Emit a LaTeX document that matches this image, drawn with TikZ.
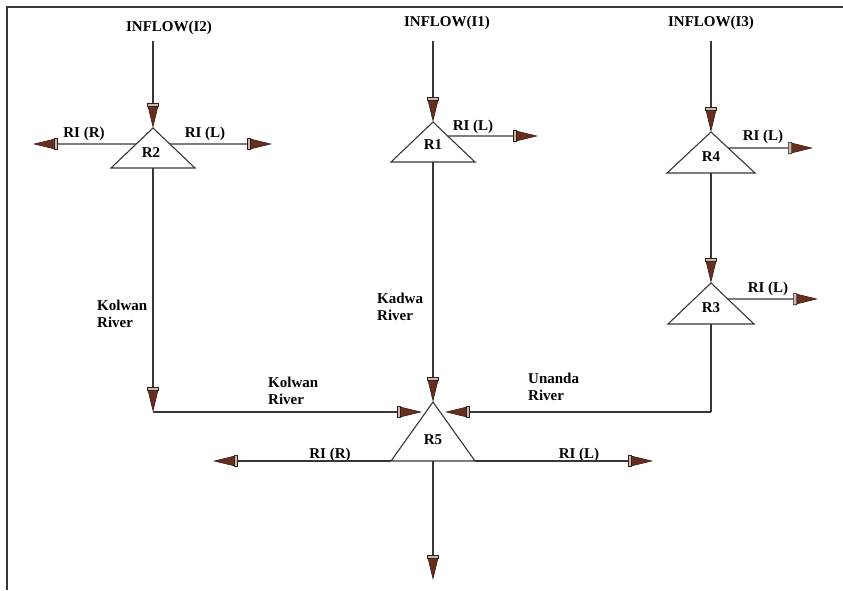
\documentclass[tikz,border=0pt]{standalone}
\usepackage{fontspec}
\setmainfont{Liberation Serif}
\usetikzlibrary{arrows.meta,calc}
\definecolor{tipbrown}{RGB}{105,45,30}
\definecolor{tipdark}{RGB}{55,30,20}
\definecolor{capgray}{RGB}{200,185,178}
\definecolor{wire}{RGB}{55,55,55}
\begin{document}
\begin{tikzpicture}[x=1pt,y=-1pt,
  lab/.style={font=\bfseries\fontsize{15}{17.5}\selectfont, inner sep=0pt, text=black},
  river/.style={lab, align=left, anchor=west},
  wireline/.style={draw=wire, line width=1.3pt},
  flow/.style={wireline, -{Rectangle[length=4pt,width=12pt,fill=capgray,color=tipdark,line width=0.6pt] Triangle[length=21pt,width=10pt,fill=tipbrown,color=tipdark,line width=0.6pt]}},
  res/.style={draw=wire, line width=1.1pt, fill=white}]
\useasboundingbox (0,0) rectangle (843,590);
% frame edges
\draw[line width=2pt, draw=wire] (843,7) -- (7,7) -- (7,590);

% reservoir triangles: apex, base left, base right
\coordinate (R2a) at (153,128); \coordinate (R2bl) at (111,168); \coordinate (R2br) at (195,168);
\coordinate (R1a) at (433,122); \coordinate (R1bl) at (391,162); \coordinate (R1br) at (475,162);
\coordinate (R4a) at (711,132); \coordinate (R4bl) at (667,173); \coordinate (R4br) at (755,173);
\coordinate (R3a) at (711,283); \coordinate (R3bl) at (668,324); \coordinate (R3br) at (754,324);
\coordinate (R5a) at (433,402); \coordinate (R5bl) at (391,461); \coordinate (R5br) at (475,461);
\foreach \r in {R1,R2,R3,R4,R5}
  \draw[res] (\r a) -- (\r bl) -- (\r br) -- cycle;

% side outlets and base midpoints
\coordinate (R2l) at ($(R2a)!0.4!(R2bl)$);
\coordinate (R2r) at ($(R2a)!0.4!(R2br)$);
\coordinate (R1r) at ($(R1a)!0.35!(R1br)$);
\coordinate (R4r) at ($(R4a)!0.39!(R4br)$);
\coordinate (R3r) at ($(R3a)!0.39!(R3br)$);
\coordinate (R2b) at (153,168);
\coordinate (R1b) at (433,162);
\coordinate (R4b) at (711,173);
\coordinate (R3b) at (711,324);
\coordinate (R5b) at (433,461);

% free ends
\coordinate (I2s) at (153,41);
\coordinate (I1s) at (433,41);
\coordinate (I3s) at (711,41);
\coordinate (R2lo) at (33,144);
\coordinate (R2ro) at (272,144);
\coordinate (R1ro) at (538,136);
\coordinate (R4ro) at (813,148);
\coordinate (R3ro) at (818,299);
\coordinate (KolC) at (153,412);
\coordinate (UnaC) at (711,412);
\coordinate (R5li) at (422,412);
\coordinate (R5ri) at (445,412);
\coordinate (R5lo) at (213,461);
\coordinate (R5ro) at (653,461);
\coordinate (R5do) at (433,580);

% labels
\node[lab] (in2) at (169,28) {INFLOW(I2)};
\node[lab] (in1) at (447,23) {INFLOW(I1)};
\node[lab] (in3) at (711,23) {INFLOW(I3)};
\node[lab] (R2) at (151,153) {R2};
\node[lab] (R1) at (433,145) {R1};
\node[lab] (R4) at (711,157) {R4};
\node[lab] (R3) at (711,308) {R3};
\node[lab] (R5) at (433,440) {R5};
\node[lab] (R2RIR) at (84,134) {RI (R)};
\node[lab] (R2RIL) at (205,134) {RI (L)};
\node[lab] (R1RIL) at (473,127) {RI (L)};
\node[lab] (R4RIL) at (763,137) {RI (L)};
\node[lab] (R3RIL) at (768,289) {RI (L)};
\node[lab] (R5RIR) at (330,455) {RI (R)};
\node[lab] (R5RIL) at (579,455) {RI (L)};
\node[river] (kol1) at (97,314) {Kolwan\\River};
\node[river] (kad) at (377,307) {Kadwa\\River};
\node[river] (kol2) at (268,391) {Kolwan\\River};
\node[river] (una) at (528,387) {Unanda\\River};

% inflows
\draw[flow] (I2s) -- (R2a);
\draw[flow] (I1s) -- (R1a);
\draw[flow] (I3s) -- (R4a);
% releases
\draw[flow] (R2l) -- (R2lo);
\draw[flow] (R2r) -- (R2ro);
\draw[flow] (R1r) -- (R1ro);
\draw[flow] (R4r) -- (R4ro);
\draw[flow] (R3r) -- (R3ro);
% rivers
\draw[flow] (R2b) -- (KolC);
\draw[flow] (KolC) -- (R5li);
\draw[flow] (R1b) -- (R5a);
\draw[flow] (R4b) -- (R3a);
\draw[wireline] (R3b) -- (UnaC);
\draw[flow] (UnaC) -- (R5ri);
% outlets of R5
\draw[flow] (R5bl) -- (R5lo);
\draw[flow] (R5br) -- (R5ro);
\draw[flow] (R5b) -- (R5do);
\end{tikzpicture}
\end{document}
